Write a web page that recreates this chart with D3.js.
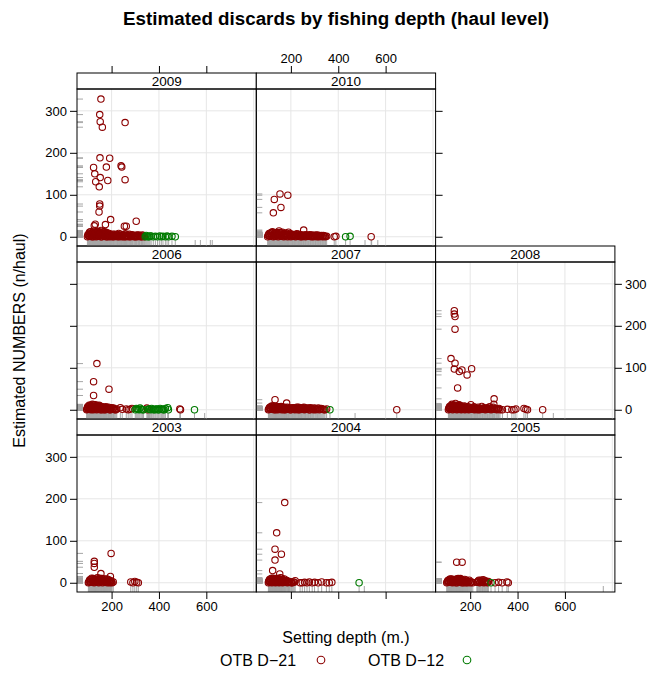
<!DOCTYPE html>
<html>
<meta charset="utf-8">
<head>
<title>Estimated discards by fishing depth</title>
<style>
body { margin: 0; background: #fff; }
text { font-family: "Liberation Sans", Arial, sans-serif; fill: #000; }
.axis path { display: none; }
.axis line { stroke: #000; }
</style>
</head>
<body>
<script src="https://d3js.org/d3.v7.min.js"></script>
<script>

// panels in lattice order (bottom-left first)
var years = [2003, 2004, 2005, 2006, 2007, 2008, 2009, 2010];
var series = ["OTB D\u221221", "OTB D\u221212"];
var xTicks = [200, 400, 600];
var yTicks = [0, 100, 200, 300];
var xGrid = [0, 200, 400, 600, 800];

// [setting depth, estimated numbers] per haul
var d21_2003 = [[198,70],[127,51],[127,46],[127,37],[155,22],[195,15],
  [102,0],[106,4],[110,1],[114,8],[118,2],[122,10],[126,0],[130,5],[134,9],[138,1],[142,6],[146,0],
  [150,11],[154,3],[158,7],[162,0],[166,4],[170,9],[174,2],[178,6],[182,0],[186,8],[190,3],[194,1],
  [198,5],[202,0],[207,2],[281,2],[290,0],[298,3],[306,1],[313,0],
  [104,2],[108,7],[112,3],[116,11],[120,5],[124,1],[128,8],[132,3],[136,6],[140,12],[144,3],[148,8],
  [152,1],[156,5],[160,10],[164,2],[168,6],[172,1],[176,4],[180,9],[184,2],[188,5],[192,0],[196,3],[200,1]];
var d12_2003 = [];

var d21_2004 = [[174,191],[140,119],[133,80],[160,68],[133,54],[123,29],[153,21],
  [105,0],[108,5],[111,1],[114,9],[117,3],[120,0],[123,7],[126,11],[129,2],[132,6],[135,0],[138,10],
  [141,4],[144,1],[147,8],[150,0],[153,5],[156,12],[159,2],[162,7],[165,0],[168,4],[172,9],[176,1],
  [180,6],[185,0],[190,3],[196,1],[202,0],[210,2],[218,5],[239,0],[248,0],[258,1],[268,0],[278,2],
  [290,0],[300,1],[315,0],[330,2],[350,0],[362,0],[373,1],
  [106,3],[110,8],[113,2],[116,6],[119,11],[122,2],[125,5],[128,9],[131,1],[134,4],[137,7],[140,2],
  [143,10],[146,3],[149,6],[152,1],[155,8],[158,4],[161,11],[164,2],[167,6],[170,1],[174,4],[178,2],
  [183,5],[188,1],[194,3],[200,2],[206,0],[214,1]];
var d12_2004 = [[488,0]];

var d21_2005 = [[143,49],[166,49],
  [101,0],[105,4],[109,1],[113,7],[117,2],[121,9],[125,0],[129,5],[133,1],[137,8],[141,3],[145,0],
  [149,10],[153,4],[157,1],[161,7],[165,0],[169,5],[173,2],[177,8],[181,0],[186,3],[191,1],[196,6],
  [201,0],[206,2],[211,0],[228,1],[234,4],[240,0],[246,6],[252,2],[258,0],[264,5],[270,1],[277,3],
  [305,0],[320,1],[335,0],[355,2],[361,0],
  [103,2],[107,6],[111,3],[115,9],[119,1],[123,5],[127,8],[131,2],[135,6],[139,0],[143,9],[147,4],
  [151,7],[155,1],[159,10],[163,3],[167,7],[171,0],[175,5],[179,2],[184,6],[189,0],[194,3],[199,1],
  [231,2],[237,6],[243,1],[249,3],[255,7],[261,1],[267,3],[273,0]];
var d12_2005 = [[288,0]];

var d21_2006 = [[138,110],[124,67],[189,49],[124,34],
  [95,0],[98,4],[101,1],[104,8],[107,2],[110,11],[113,0],[116,6],[119,13],[122,3],[125,9],[128,1],
  [131,12],[134,5],[137,0],[140,10],[143,3],[146,7],[149,1],[152,9],[155,4],[158,0],[162,7],[166,2],
  [170,5],[174,0],[178,4],[182,1],[187,6],[192,0],[197,3],[202,1],[208,4],[214,0],[222,2],[237,5],
  [245,1],[262,2],[270,0],[278,1],[286,3],[349,4],[352,0],[488,2],[491,0],
  [96,2],[99,7],[102,3],[105,11],[108,5],[111,1],[114,9],[117,3],[120,7],[123,0],[126,12],[129,5],
  [132,2],[135,9],[138,3],[141,7],[144,1],[147,11],[150,4],[153,0],[156,7],[160,3],[164,5],[168,0],
  [172,3],[176,7],[180,2],[185,4],[190,2],[195,0],[200,5],[205,1],[211,2],[218,0]];
var d12_2006 = [[300,0],[308,2],[316,0],[325,1],[335,0],[356,2],[365,0],[374,1],[383,0],[392,2],
  [400,0],[410,1],[418,0],[427,3],[437,5],[440,0],[550,0],
  [304,3],[312,1],[320,4],[330,0],[360,1],[369,3],[378,0],[387,2],[396,0],[405,3],[414,1],[422,0]];

var d21_2007 = [[133,24],[182,16],
  [105,0],[109,4],[113,1],[117,7],[121,2],[125,9],[129,0],[133,5],[137,2],[141,8],[145,0],[149,4],
  [153,1],[157,7],[161,0],[165,5],[169,2],[173,6],[177,0],[182,3],[187,1],[192,5],[197,0],[202,3],
  [207,1],[212,5],[217,0],[222,4],[227,1],[232,6],[237,0],[242,3],[247,1],[252,5],[257,0],[262,3],
  [268,1],[274,4],[280,0],[286,3],[292,1],[298,4],[305,0],[312,2],[320,0],[328,3],[336,1],[344,0],
  [351,2],[647,0],
  [107,2],[111,6],[115,3],[119,9],[123,1],[127,5],[131,8],[135,0],[139,5],[143,2],[147,7],[151,1],
  [155,4],[159,8],[163,2],[167,6],[171,0],[175,4],[180,1],[185,6],[190,2],[195,3],[200,0],[205,5],
  [210,2],[215,3],[220,1],[225,6],[230,0],[235,3],[240,5],[245,1],[250,2],[255,6],[260,1],[265,4],
  [271,2],[277,0],[283,5],[289,2],[295,0],[302,3],[309,1],[316,4],[324,1],[332,2],[340,0]];
var d12_2007 = [[365,0]];

var d21_2008 = [[133,236],[133,228],[136,222],[136,192],[119,122],[136,111],[133,97],[154,91],
  [165,95],[187,83],[206,98],[147,52],[301,26],
  [108,0],[111,5],[114,1],[117,9],[120,3],[123,13],[126,0],[129,7],[132,11],[135,2],[138,15],[141,5],
  [144,0],[147,9],[150,3],[153,12],[156,1],[159,7],[162,0],[166,5],[170,2],[174,9],[178,0],[182,4],
  [186,1],[190,7],[194,0],[198,3],[203,12],[208,1],[213,5],[218,0],[223,3],[228,1],[234,6],[240,0],
  [246,3],[252,1],[258,5],[264,0],[270,3],[276,1],[282,7],[288,0],[294,4],[300,13],[305,1],[312,0],
  [319,2],[326,0],[336,0],[357,1],[376,0],[385,0],[393,2],[427,3],[435,1],[442,0],[506,0],
  [110,3],[113,8],[116,2],[119,6],[122,10],[125,3],[128,5],[131,1],[134,8],[137,4],[140,11],[143,2],
  [146,6],[149,1],[152,8],[155,4],[158,10],[161,2],[164,7],[168,1],[172,5],[176,3],[180,8],[184,1],
  [188,4],[192,2],[196,6],[201,1],[206,4],[211,2],[216,7],[221,1],[226,4],[231,0],[237,3],[243,1],
  [249,8],[255,2],[261,3],[267,1],[273,5],[279,2],[285,3],[291,1],[297,6],[302,2],[309,3],[316,1],[322,3]];
var d12_2008 = [];

var d21_2009 = [[155,328],[150,291],[152,274],[161,261],[257,272],[151,188],[192,187],[124,165],
  [178,166],[240,169],[243,166],[129,150],[152,141],[133,131],[184,134],[257,136],[148,119],[150,78],
  [150,73],[147,59],[196,41],[131,30],[174,29],[254,25],[262,25],[304,37],[127,26],
  [98,0],[102,3],[105,8],[108,1],[111,12],[114,5],[117,0],[120,9],[123,14],[126,2],[129,6],[132,11],
  [135,0],[138,4],[141,13],[144,7],[147,1],[150,10],[153,3],[156,15],[159,0],[162,6],[165,9],[168,2],
  [171,12],[174,4],[177,0],[180,7],[184,2],[188,5],[192,0],[196,3],[200,1],[205,6],[210,0],[215,2],
  [220,4],[225,0],[230,8],[235,1],[240,3],[245,0],[250,5],[255,2],[260,0],[265,4],[270,1],[275,6],
  [280,0],[285,3],[290,1],[296,0],[302,2],[308,0],[314,4],[320,1],[326,0],[332,2],[338,0],
  [100,5],[104,1],[107,11],[110,4],[113,8],[116,2],[119,6],[122,0],[125,11],[128,4],[131,8],[134,2],
  [137,10],[140,1],[143,5],[146,12],[149,3],[152,7],[155,0],[158,9],[161,3],[164,12],[167,5],[170,1],
  [173,8],[176,3],[179,10],[182,0],[186,4],[190,8],[194,2],[198,5],[203,0],[208,3],[213,6],[218,1],
  [223,2],[228,5],[233,0],[238,6],[243,2],[248,4],[253,0],[258,7],[263,1],[268,3],[273,0],[278,4],
  [283,1],[288,5],[294,2],[300,0],[306,4],[312,1],[318,3],[324,0],[330,4],[336,1]];
var d12_2009 = [[342,0],[350,1],[358,0],[367,2],[376,0],[385,1],[394,0],[403,2],[410,0],[417,1],
  [427,0],[434,2],[441,0],[455,1],[469,0],[346,3],[354,0],[362,2]];

var d21_2010 = [[154,102],[187,99],[130,89],[158,70],[126,57],[254,16],
  [102,0],[106,5],[110,1],[114,9],[118,3],[122,12],[126,0],[130,7],[134,2],[138,10],[142,4],[146,0],
  [150,14],[154,6],[158,1],[162,9],[166,3],[170,0],[174,8],[178,2],[182,6],[186,0],[190,11],[195,3],
  [200,0],[205,6],[210,1],[215,4],[220,0],[225,7],[230,2],[235,5],[240,0],[245,3],[250,1],[256,4],
  [262,0],[268,3],[274,1],[280,5],[286,0],[292,3],[298,1],[304,4],[310,0],[316,2],[322,1],[328,3],
  [334,0],[340,2],[346,0],[351,1],[383,0],[390,1],[539,0],
  [104,3],[108,8],[112,2],[116,6],[120,10],[124,4],[128,1],[132,9],[136,5],[140,1],[144,8],[148,3],
  [152,10],[156,2],[160,6],[164,11],[168,4],[172,1],[176,5],[180,9],[184,3],[188,6],[192,1],[197,7],
  [202,3],[207,1],[212,5],[217,2],[222,4],[227,1],[232,6],[237,2],[242,5],[247,0],[253,3],[259,1],
  [265,5],[271,1],[277,3],[283,1],[289,4],[295,0],[301,2],[307,1],[313,4],[319,0],[325,2],[331,1],[337,3],[343,1]];
var d12_2010 = [[431,0],[450,1]];

// hauls with a depth but no point in this panel (rug only)
var rug_2003 = [];
var rug_2004 = [510];
var rug_2005 = [762];
var rug_2006 = [593];
var rug_2007 = [471];
var rug_2008 = [551];
var rug_2009 = [553, 575, 617, 625];
var rug_2010 = [513, 541, 567];

var d21 = [d21_2003, d21_2004, d21_2005, d21_2006, d21_2007, d21_2008, d21_2009, d21_2010];
var d12 = [d12_2003, d12_2004, d12_2005, d12_2006, d12_2007, d12_2008, d12_2009, d12_2010];
var rugOnly = [rug_2003, rug_2004, rug_2005, rug_2006, rug_2007, rug_2008, rug_2009, rug_2010];

var width = 655, height = 673;
var left0 = 77, top0 = 73, pw = 179.3, ph = 157, sh = 16;
var colors = ["#8b0000", "#007a00"];

var svg = d3.select("body").append("svg")
    .attr("width", width)
    .attr("height", height);

svg.append("text")
    .attr("x", 336).attr("y", 25)
    .attr("text-anchor", "middle")
    .style("font-size", "18.8px").style("font-weight", "bold")
    .text("Estimated discards by fishing depth (haul level)");

years.forEach(function(yr, i) {
  var col = i % 3, row = 2 - Math.floor(i / 3);
  var x0 = left0 + col * pw, y0 = top0 + row * (ph + sh);
  var pt = y0 + sh, pb = pt + ph;

  var x = d3.scaleLinear().domain([54, 811]).range([x0, x0 + pw]);
  var y = d3.scaleLinear().domain([-22, 352]).range([pb, pt]);

  var g = svg.append("g");

  // grid
  g.selectAll(".gx").data(xGrid.filter(function(v) { return v > 54 && v < 811; }))
    .enter().append("line")
    .attr("x1", function(d) { return x(d); }).attr("x2", function(d) { return x(d); })
    .attr("y1", pt).attr("y2", pb)
    .attr("stroke", "#e6e6e6");
  g.selectAll(".gy").data(yTicks)
    .enter().append("line")
    .attr("y1", function(d) { return y(d); }).attr("y2", function(d) { return y(d); })
    .attr("x1", x0).attr("x2", x0 + pw)
    .attr("stroke", "#e6e6e6");

  var all = d21[i].concat(d12[i]);
  var depths = all.map(function(d) { return d[0]; }).concat(rugOnly[i]);

  // rugs
  g.selectAll(".rx").data(depths)
    .enter().append("line")
    .attr("x1", function(d) { return x(d); }).attr("x2", function(d) { return x(d); })
    .attr("y1", pb).attr("y2", pb - 6)
    .attr("stroke", "#a6a6a6");
  g.selectAll(".ry").data(all)
    .enter().append("line")
    .attr("y1", function(d) { return y(d[1]); }).attr("y2", function(d) { return y(d[1]); })
    .attr("x1", x0).attr("x2", x0 + 6)
    .attr("stroke", "#a6a6a6");

  // points
  [d21[i], d12[i]].forEach(function(data, s) {
    g.selectAll(".p" + s).data(data)
      .enter().append("circle")
      .attr("cx", function(d) { return x(d[0]); })
      .attr("cy", function(d) { return y(d[1]); })
      .attr("r", 3.2)
      .attr("fill", "none")
      .attr("stroke", colors[s])
      .attr("stroke-width", 1.1);
  });

  // strip and borders
  g.append("rect").attr("x", x0).attr("y", y0).attr("width", pw).attr("height", sh)
    .attr("fill", "#fff").attr("stroke", "#000");
  g.append("text").attr("x", x0 + pw / 2).attr("y", y0 + 13)
    .attr("text-anchor", "middle").style("font-size", "13.5px").text(yr);
  g.append("rect").attr("x", x0).attr("y", pt).attr("width", pw).attr("height", ph)
    .attr("fill", "none").attr("stroke", "#000");

  // axes (alternating labels)
  if (row === 2) {
    var ab = d3.axisBottom(x).tickValues(xTicks).tickSize(7).tickPadding(3);
    if (col === 1) ab.tickFormat("");
    g.append("g").attr("class", "axis").attr("transform", "translate(0," + pb + ")")
      .call(ab).selectAll("text").style("font-size", "13px");
  }
  if (row === 0) {
    var at = d3.axisTop(x).tickValues(xTicks).tickSize(7).tickPadding(3);
    if (col === 0) at.tickFormat("");
    g.append("g").attr("class", "axis").attr("transform", "translate(0," + y0 + ")")
      .call(at).selectAll("text").style("font-size", "13px");
  }
  if (col === 0) {
    var al = d3.axisLeft(y).tickValues(yTicks).tickSize(7).tickPadding(3);
    if (row === 1) al.tickFormat("");
    g.append("g").attr("class", "axis").attr("transform", "translate(" + x0 + ",0)")
      .call(al).selectAll("text").style("font-size", "13px");
  }
  var lastInRow = (col === 2) || (i === years.length - 1);
  if (lastInRow) {
    var ar = d3.axisRight(y).tickValues(yTicks).tickSize(7).tickPadding(3);
    if (row !== 1) ar.tickFormat("");
    g.append("g").attr("class", "axis").attr("transform", "translate(" + (x0 + pw) + ",0)")
      .call(ar).selectAll("text").style("font-size", "13px");
  }
});

svg.selectAll(".axis text").style("font-family", "'Liberation Sans', Arial, sans-serif").attr("fill", "#000");

// axis titles
svg.append("text")
    .attr("transform", "translate(25," + (top0 + (3 * (ph + sh)) / 2 + 8) + ") rotate(-90)")
    .attr("text-anchor", "middle")
    .style("font-size", "16px")
    .text("Estimated NUMBERS (n/haul)");
svg.append("text")
    .attr("x", left0 + 1.5 * pw).attr("y", 643)
    .attr("text-anchor", "middle")
    .style("font-size", "16px")
    .text("Setting depth (m.)");

// legend
var legX = [220, 368], legC = [321, 467];
series.forEach(function(s, k) {
  svg.append("text").attr("x", legX[k]).attr("y", 666)
    .style("font-size", "16px").text(s);
  svg.append("circle").attr("cx", legC[k]).attr("cy", 660).attr("r", 3.8)
    .attr("fill", "none").attr("stroke", colors[k]).attr("stroke-width", 1.1);
});

</script>
</body>
</html>
